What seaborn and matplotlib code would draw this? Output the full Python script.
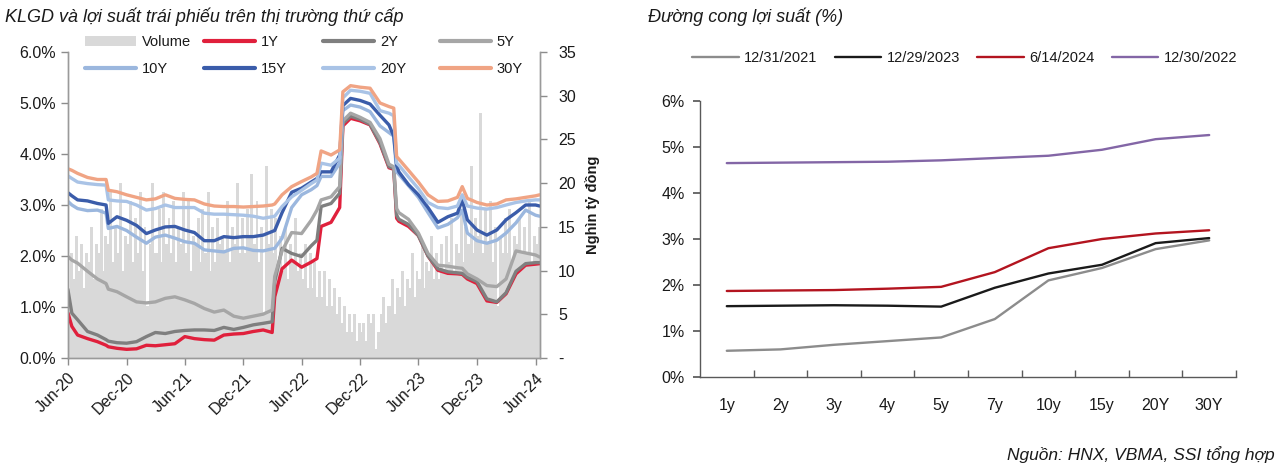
import numpy as np
import pandas as pd
import matplotlib
matplotlib.use("Agg")
import matplotlib.pyplot as plt
from matplotlib.ticker import FixedLocator, FuncFormatter
from matplotlib.lines import Line2D
from matplotlib.patches import Patch
import seaborn as sns

# ---------------- Left panel data: secondary-market yields (%) ----------------
dates = ["2020-06-01", "2020-06-13", "2020-07-01", "2020-08-01", "2020-09-01", "2020-09-28",
         "2020-10-05", "2020-11-01", "2020-12-01", "2021-01-01", "2021-02-01", "2021-03-01",
         "2021-04-01", "2021-05-01", "2021-06-01", "2021-07-01", "2021-08-01", "2021-09-01",
         "2021-10-01", "2021-11-01", "2021-12-01", "2022-01-01", "2022-02-01", "2022-03-01",
         "2022-03-09", "2022-04-01", "2022-05-01", "2022-06-01", "2022-07-01", "2022-07-19",
         "2022-08-01", "2022-09-01", "2022-09-28", "2022-10-08", "2022-11-01", "2022-12-01",
         "2023-01-01", "2023-02-01", "2023-03-01", "2023-03-16", "2023-03-25", "2023-04-01",
         "2023-05-01", "2023-06-01", "2023-07-01", "2023-08-01", "2023-09-01", "2023-10-01",
         "2023-10-16", "2023-11-01", "2023-12-01", "2024-01-01", "2024-02-01", "2024-03-01",
         "2024-04-01", "2024-05-01", "2024-06-01", "2024-06-14"]

y_1y = [0.88, 0.62, 0.45, 0.38, 0.32, 0.25, 0.22, 0.19, 0.17, 0.18, 0.25, 0.24,
        0.26, 0.28, 0.42, 0.38, 0.36, 0.35, 0.45, 0.47, 0.48, 0.52, 0.55, 0.50,
        1.20, 1.75, 1.92, 1.78, 1.88, 1.95, 2.58, 2.66, 2.95, 4.55, 4.70, 4.65,
        4.57, 4.20, 3.73, 3.70, 2.74, 2.68, 2.58, 2.40, 2.00, 1.72, 1.66, 1.65,
        1.64, 1.55, 1.46, 1.12, 1.09, 1.26, 1.65, 1.82, 1.84, 1.85]
y_2y = [1.33, 0.88, 0.75, 0.52, 0.45, 0.36, 0.33, 0.30, 0.29, 0.32, 0.42, 0.50,
        0.48, 0.52, 0.54, 0.55, 0.55, 0.54, 0.60, 0.56, 0.60, 0.65, 0.68, 0.71,
        1.50, 2.15, 2.05, 1.99, 2.20, 2.31, 2.97, 3.03, 3.23, 4.60, 4.74, 4.68,
        4.58, 4.22, 3.75, 3.72, 2.80, 2.72, 2.62, 2.40, 2.00, 1.75, 1.69, 1.67,
        1.66, 1.58, 1.50, 1.16, 1.10, 1.28, 1.70, 1.85, 1.87, 1.87]
y_5y = [1.99, 1.92, 1.86, 1.70, 1.55, 1.46, 1.35, 1.30, 1.20, 1.10, 1.08, 1.10,
        1.17, 1.20, 1.14, 1.07, 0.97, 0.90, 0.94, 0.82, 0.78, 0.82, 0.86, 0.94,
        1.60, 2.10, 2.46, 2.44, 2.70, 2.90, 3.10, 3.16, 3.36, 4.65, 4.80, 4.72,
        4.62, 4.30, 3.80, 3.75, 2.93, 2.85, 2.72, 2.45, 2.05, 1.82, 1.80, 1.77,
        1.76, 1.65, 1.55, 1.42, 1.40, 1.55, 2.10, 2.06, 2.02, 1.98]
y_10y = [3.07, 3.00, 2.93, 2.89, 2.90, 2.84, 2.54, 2.58, 2.50, 2.37, 2.25, 2.37,
         2.41, 2.35, 2.28, 2.25, 2.12, 2.10, 2.08, 2.15, 2.16, 2.11, 2.10, 2.14,
         2.15, 2.35, 2.95, 3.20, 3.30, 3.38, 3.56, 3.56, 3.82, 4.85, 4.96, 4.92,
         4.83, 4.55, 4.42, 4.35, 3.65, 3.60, 3.38, 3.15, 2.85, 2.55, 2.62, 2.75,
         2.90, 2.45, 2.30, 2.25, 2.31, 2.45, 2.65, 2.90, 2.80, 2.78]
y_15y = [3.24, 3.18, 3.10, 3.08, 3.03, 3.00, 2.64, 2.77, 2.70, 2.60, 2.44, 2.51,
         2.57, 2.58, 2.51, 2.46, 2.30, 2.30, 2.38, 2.36, 2.38, 2.38, 2.41, 2.48,
         2.50, 2.85, 3.25, 3.33, 3.45, 3.52, 3.65, 3.65, 3.98, 4.95, 5.09, 5.05,
         4.98, 4.76, 4.57, 4.35, 3.78, 3.65, 3.40, 3.20, 2.95, 2.66, 2.77, 2.84,
         3.10, 2.71, 2.51, 2.41, 2.51, 2.71, 2.85, 3.00, 3.00, 2.98]
y_20y = [3.57, 3.52, 3.45, 3.42, 3.40, 3.39, 3.10, 3.08, 3.07, 3.00, 2.90, 2.93,
         3.00, 2.95, 2.95, 2.95, 2.84, 2.82, 2.82, 2.81, 2.80, 2.78, 2.74, 2.77,
         2.78, 2.97, 3.16, 3.29, 3.42, 3.49, 3.82, 3.78, 3.92, 5.10, 5.25, 5.23,
         5.19, 4.85, 4.80, 4.75, 3.82, 3.78, 3.55, 3.32, 3.05, 2.95, 2.93, 2.98,
         3.20, 2.98, 2.94, 2.92, 2.95, 3.00, 3.05, 3.08, 3.10, 3.10]
y_30y = [3.71, 3.68, 3.62, 3.54, 3.50, 3.50, 3.29, 3.26, 3.20, 3.15, 3.10, 3.12,
         3.20, 3.13, 3.11, 3.10, 3.02, 2.98, 2.97, 2.97, 2.96, 2.97, 2.98, 3.00,
         3.02, 3.20, 3.36, 3.46, 3.55, 3.62, 4.06, 3.98, 4.08, 5.22, 5.34, 5.31,
         5.29, 5.00, 4.93, 4.90, 3.95, 3.90, 3.68, 3.45, 3.20, 3.07, 3.08, 3.15,
         3.36, 3.13, 3.05, 3.00, 3.02, 3.10, 3.12, 3.15, 3.18, 3.20]

# Trading volume (nghìn tỷ đồng), four readings per month
vol_2020 = [8, 12, 9, 14, 10, 13, 8, 12, 11, 15, 9, 13, 12, 17, 10, 14,
            13, 19, 11, 15, 12, 20, 10, 14, 13, 18, 11, 16]
vol_2021 = [12, 19, 10, 15, 6, 13, 20, 12, 12, 17, 11, 19, 13, 16, 12, 18,
            11, 15, 13, 19, 12, 18, 10, 14, 13, 16, 11, 17, 12, 19, 10, 15,
            11, 16, 13, 14, 12, 18, 11, 15, 13, 20, 12, 16, 12, 17, 14, 21]
vol_2022 = [13, 18, 11, 15, 5, 22, 13, 17, 12, 16, 11, 14, 10, 15, 9, 13,
            11, 16, 10, 12, 9, 13, 8, 12, 8, 11, 7, 10, 7, 10, 6, 9,
            6, 8, 5, 7, 4, 6, 3, 5, 3, 5, 2, 4, 3, 4, 2, 5]
vol_2023 = [4, 5, 1, 3, 5, 7, 4, 6, 6, 9, 5, 8, 7, 10, 6, 9,
            8, 12, 7, 10, 9, 13, 8, 11, 10, 14, 9, 12, 9, 13, 10, 14,
            11, 16, 10, 13, 12, 17, 11, 15, 13, 22, 12, 16, 14, 28, 12, 17]
vol_2024 = [13, 18, 11, 15, 6, 14, 12, 16, 12, 17, 11, 14, 13, 16, 12, 15,
            12, 18, 11, 14, 13, 15]

# ---------------- Right panel data: yield curves (%) ----------------
tenors = ["1y", "2y", "3y", "4y", "5y", "7y", "10y", "15y", "20Y", "30Y"]
curve_20211231 = [0.57, 0.60, 0.70, 0.78, 0.86, 1.26, 2.10, 2.37, 2.78, 2.97]
curve_20231229 = [1.54, 1.55, 1.56, 1.55, 1.53, 1.94, 2.25, 2.44, 2.91, 3.02]
curve_20240614 = [1.87, 1.88, 1.89, 1.92, 1.96, 2.28, 2.80, 3.00, 3.12, 3.19]
curve_20221230 = [4.65, 4.66, 4.67, 4.68, 4.71, 4.76, 4.81, 4.94, 5.17, 5.26]
curve_labels = ["12/31/2021", "12/29/2023", "6/14/2024", "12/30/2022"]

# ---------------- Styling ----------------
sns.set_theme(style="ticks")
plt.rcParams['font.family'] = ['Liberation Sans', 'DejaVu Sans']
TXT = "#1a1a1a"

tenor_names = ["1Y", "2Y", "5Y", "10Y", "15Y", "20Y", "30Y"]
tenor_colors = {"1Y": "#e0203c", "2Y": "#7f7f7f", "5Y": "#a6a6a6", "10Y": "#9bb7de",
                "15Y": "#3a5caa", "20Y": "#a9c3e6", "30Y": "#f0a484"}
curve_colors = {"12/31/2021": "#8c8c8c", "12/29/2023": "#1a1a1a",
                "6/14/2024": "#b3141f", "12/30/2022": "#8366a6"}

W, H = 1280, 473
fig = plt.figure(figsize=(12.8, 4.73), dpi=100)

# ================= Left panel =================
ax = fig.add_axes([68 / W, 1 - 358 / H, (540 - 68) / W, (358 - 52) / H])
ax2 = ax.twinx()

vol = vol_2020 + vol_2021 + vol_2022 + vol_2023 + vol_2024
months = pd.date_range("2020-06-01", "2024-06-01", freq="MS")
vol_dates = []
for mth in months:
    for off in (0, 7, 15, 22):
        vol_dates.append(mth + pd.Timedelta(days=off))
vol_dates = vol_dates[:len(vol)]
ax2.bar(vol_dates, vol, width=9.2, align="edge", color="#d9d9d9", linewidth=0)
ax2.set_ylim(0, 35)

series = [y_1y, y_2y, y_5y, y_10y, y_15y, y_20y, y_30y]
long = pd.concat([pd.DataFrame({"date": pd.to_datetime(dates), "yield": v, "tenor": n})
                  for n, v in zip(tenor_names, series)], ignore_index=True)
ax.set_zorder(ax2.get_zorder() + 1)
ax.patch.set_visible(False)
sns.lineplot(data=long, x="date", y="yield", hue="tenor", hue_order=tenor_names,
             palette=tenor_colors, linewidth=2.4, estimator=None, sort=False,
             legend=False, ax=ax)

ax.set_ylim(0, 6)
ax.set_xlim(pd.Timestamp("2020-06-01"), pd.Timestamp("2024-06-15"))
ax.set_xlabel("")
ax.set_ylabel("")
ax.set_yticks(np.arange(0, 6.01, 1))
ax.yaxis.set_major_formatter(FuncFormatter(lambda v, p: f"{v:.1f}%"))
xt = pd.date_range("2020-06-01", "2024-06-01", freq="6MS")
ax.set_xticks(xt)
ax.set_xticklabels([d.strftime("%b-%y") for d in xt], rotation=45, ha="right",
                   rotation_mode="anchor")
ax.tick_params(axis="both", labelsize=11.5, colors="#8c8c8c", labelcolor=TXT,
               length=5, width=1, direction="out")
ax.tick_params(axis="x", pad=4)
ax2.set_yticks(np.arange(0, 36, 5))
ax2.yaxis.set_major_formatter(FuncFormatter(lambda v, p: "-" if v == 0 else f"{v:.0f}"))
ax2.tick_params(axis="y", labelsize=11.5, colors="#8c8c8c", labelcolor=TXT,
                length=5, width=1, pad=8)
ax2.set_ylabel("Nghìn tỷ đồng", fontsize=10.5, fontweight="bold", color=TXT, labelpad=7)
for a in (ax, ax2):
    a.spines["top"].set_visible(False)
    for s in ("left", "right", "bottom"):
        a.spines[s].set_color("#9a9a9a")
        a.spines[s].set_linewidth(1)

fig.text(5 / W, 1 - 17 / H, "KLGD và lợi suất trái phiếu trên thị trường thứ cấp",
         fontsize=13, style="italic", color=TXT, ha="left", va="center")

vol_handle = Patch(facecolor="#d9d9d9", edgecolor="none")
h = {n: Line2D([], [], color=tenor_colors[n], lw=3) for n in tenor_names}
legend_cols = [[(vol_handle, "Volume"), (h["10Y"], "10Y")],
               [(h["1Y"], "1Y"), (h["15Y"], "15Y")],
               [(h["2Y"], "2Y"), (h["20Y"], "20Y")],
               [(h["5Y"], "5Y"), (h["30Y"], "30Y")]]
for xpix, col in zip([85, 204, 323, 440], legend_cols):
    fig.legend([c[0] for c in col], [c[1] for c in col], loc="upper left",
               bbox_to_anchor=(xpix / W, 1 - 35 / H), frameon=False, fontsize=10.5,
               handlelength=3.5, handletextpad=0.4, labelspacing=0.9,
               borderpad=0, borderaxespad=0, labelcolor=TXT)

# ================= Right panel =================
bx = fig.add_axes([700 / W, 1 - 377 / H, (1236 - 700) / W, (377 - 101) / H])
curves = [curve_20211231, curve_20231229, curve_20240614, curve_20221230]
cdf = pd.concat([pd.DataFrame({"tenor": tenors, "yield": v, "curve": lab})
                 for lab, v in zip(curve_labels, curves)], ignore_index=True)
sns.lineplot(data=cdf, x="tenor", y="yield", hue="curve", hue_order=curve_labels,
             palette=curve_colors, linewidth=1.7, sort=False, estimator=None,
             legend=False, ax=bx)
bx.set_xlim(-0.5, 9.5)
bx.set_ylim(0, 6)
bx.set_xlabel("")
bx.set_ylabel("")
bx.set_yticks(np.arange(0, 6.01, 1))
bx.yaxis.set_major_formatter(FuncFormatter(lambda v, p: f"{v:.0f}%"))
bx.set_xticks(range(len(tenors)))
bx.set_xticklabels(tenors)
bx.xaxis.set_minor_locator(FixedLocator(np.arange(0.5, 9.6, 1)))
bx.tick_params(axis="x", which="major", length=0, pad=15, labelsize=11.5, labelcolor=TXT)
bx.tick_params(axis="x", which="minor", length=5, direction="in", color="#595959")
bx.tick_params(axis="y", length=5, direction="out", color="#595959", labelsize=11.5,
               labelcolor=TXT, pad=6)
bx.spines["top"].set_visible(False)
bx.spines["right"].set_visible(False)
for s in ("left", "bottom"):
    bx.spines[s].set_color("#595959")
    bx.spines[s].set_linewidth(1)

fig.text(648 / W, 1 - 17 / H, "Đường cong lợi suất (%)", fontsize=13, style="italic",
         color=TXT, ha="left", va="center")

ch = [Line2D([], [], color=curve_colors[l], lw=1.7) for l in curve_labels]
fig.legend(ch, curve_labels, ncol=4, loc="center left",
           bbox_to_anchor=(692 / W, 1 - 58 / H), frameon=False, fontsize=10.5,
           handlelength=3.2, handletextpad=0.35, columnspacing=1.2,
           borderpad=0, borderaxespad=0, labelcolor=TXT)

fig.text(1275 / W, 1 - 455 / H, "Nguồn: HNX, VBMA, SSI tổng hợp", fontsize=12.5,
         style="italic", color=TXT, ha="right", va="center")

fig.savefig("out.png", dpi=100)
